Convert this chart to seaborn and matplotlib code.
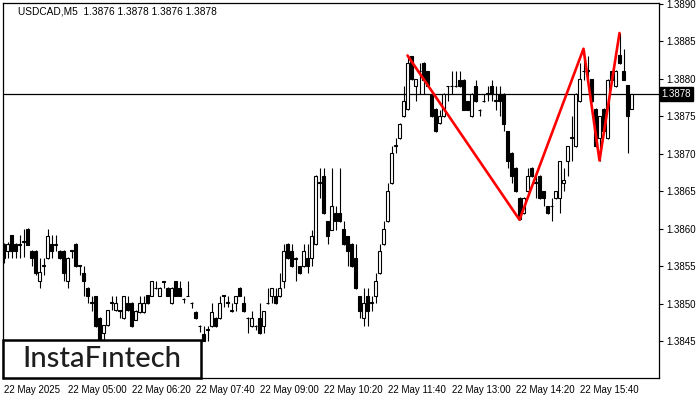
import numpy as np
import pandas as pd
import matplotlib
matplotlib.use("Agg")
import matplotlib.pyplot as plt
from matplotlib.patches import Rectangle
import seaborn as sns

symbol = "USDCAD,M5"
last_quote = "1.3876 1.3878 1.3876 1.3878"
current_price = 1.3878

# M5 candles (bar 0 = 22 May 03:40)
opens = [1.38579, 1.38570, 1.38591, 1.38580, 1.38579, 1.38583, 1.38600, 1.38571, 1.38571, 1.38530,
         1.38550, 1.38561, 1.38579, 1.38579, 1.38571, 1.38571, 1.38530, 1.38570, 1.38580, 1.38550,
         1.38541, 1.38521, 1.38501, 1.38510, 1.38481, 1.38461, 1.38471, 1.38501, 1.38491, 1.38491,
         1.38481, 1.38501, 1.38501, 1.38479, 1.38489, 1.38489, 1.38511, 1.38511, 1.38521, 1.38511,
         1.38530, 1.38521, 1.38501, 1.38530, 1.38521, 1.38507, 1.38511, 1.38501, 1.38489, 1.38470,
         1.38460, 1.38465, 1.38470, 1.38481, 1.38481, 1.38511, 1.38501, 1.38490, 1.38501, 1.38521,
         1.38501, 1.38481, 1.38470, 1.38470, 1.38481, 1.38470, 1.38501, 1.38510, 1.38510, 1.38510,
         1.38530, 1.38580, 1.38570, 1.38561, 1.38550, 1.38550, 1.38561, 1.38561, 1.38580, 1.38661,
         1.38670, 1.38610, 1.38599, 1.38621, 1.38621, 1.38599, 1.38590, 1.38580, 1.38561, 1.38510,
         1.38481, 1.38510, 1.38501, 1.38510, 1.38541, 1.38580, 1.38610, 1.38661, 1.38711, 1.38721,
         1.38750, 1.38760, 1.38830, 1.38790, 1.38810, 1.38821, 1.38810, 1.38779, 1.38760, 1.38741,
         1.38750, 1.38790, 1.38790, 1.38790, 1.38799, 1.38799, 1.38770, 1.38750, 1.38790, 1.38759,
         1.38770, 1.38780, 1.38790, 1.38770, 1.38780, 1.38780, 1.38730, 1.38701, 1.38681, 1.38641,
         1.38621, 1.38650, 1.38681, 1.38661, 1.38670, 1.38650, 1.38630, 1.38630, 1.38641, 1.38641,
         1.38661, 1.38690, 1.38721, 1.38710, 1.38770, 1.38810, 1.38812, 1.38799, 1.38760, 1.38721,
         1.38760, 1.38721, 1.38810, 1.38790, 1.38832, 1.38810, 1.38791, 1.38760]
highs = [1.38581, 1.38583, 1.38592, 1.38581, 1.38592, 1.38600, 1.38601, 1.38572, 1.38572, 1.38561,
         1.38561, 1.38600, 1.38592, 1.38592, 1.38572, 1.38572, 1.38562, 1.38572, 1.38581, 1.38551,
         1.38550, 1.38522, 1.38510, 1.38511, 1.38482, 1.38471, 1.38492, 1.38510, 1.38510, 1.38492,
         1.38511, 1.38510, 1.38502, 1.38491, 1.38511, 1.38511, 1.38512, 1.38531, 1.38530, 1.38522,
         1.38531, 1.38522, 1.38522, 1.38531, 1.38530, 1.38508, 1.38530, 1.38502, 1.38490, 1.38471,
         1.38470, 1.38470, 1.38501, 1.38482, 1.38511, 1.38512, 1.38511, 1.38501, 1.38511, 1.38522,
         1.38510, 1.38482, 1.38490, 1.38471, 1.38501, 1.38490, 1.38521, 1.38521, 1.38521, 1.38541,
         1.38580, 1.38581, 1.38580, 1.38562, 1.38551, 1.38580, 1.38580, 1.38599, 1.38671, 1.38681,
         1.38681, 1.38611, 1.38681, 1.38630, 1.38681, 1.38610, 1.38591, 1.38581, 1.38580, 1.38511,
         1.38521, 1.38521, 1.38510, 1.38541, 1.38580, 1.38610, 1.38661, 1.38710, 1.38721, 1.38741,
         1.38790, 1.38831, 1.38831, 1.38800, 1.38821, 1.38822, 1.38811, 1.38780, 1.38761, 1.38759,
         1.38781, 1.38791, 1.38810, 1.38810, 1.38810, 1.38800, 1.38771, 1.38781, 1.38799, 1.38760,
         1.38780, 1.38790, 1.38799, 1.38790, 1.38790, 1.38781, 1.38731, 1.38702, 1.38682, 1.38642,
         1.38642, 1.38681, 1.38682, 1.38670, 1.38671, 1.38651, 1.38631, 1.38641, 1.38651, 1.38691,
         1.38681, 1.38711, 1.38750, 1.38781, 1.38821, 1.38839, 1.38830, 1.38800, 1.38761, 1.38751,
         1.38761, 1.38800, 1.38811, 1.38812, 1.38861, 1.38840, 1.38792, 1.38780]
lows = [1.38555, 1.38561, 1.38561, 1.38561, 1.38561, 1.38563, 1.38578, 1.38550, 1.38539, 1.38521,
        1.38539, 1.38560, 1.38561, 1.38570, 1.38560, 1.38530, 1.38521, 1.38561, 1.38549, 1.38539,
        1.38510, 1.38501, 1.38490, 1.38469, 1.38450, 1.38452, 1.38470, 1.38491, 1.38490, 1.38481,
        1.38480, 1.38490, 1.38469, 1.38478, 1.38488, 1.38488, 1.38500, 1.38510, 1.38520, 1.38510,
        1.38521, 1.38510, 1.38500, 1.38510, 1.38510, 1.38501, 1.38510, 1.38494, 1.38480, 1.38463,
        1.38450, 1.38450, 1.38469, 1.38469, 1.38480, 1.38496, 1.38496, 1.38489, 1.38490, 1.38510,
        1.38489, 1.38461, 1.38469, 1.38465, 1.38460, 1.38461, 1.38500, 1.38501, 1.38500, 1.38509,
        1.38521, 1.38560, 1.38549, 1.38530, 1.38540, 1.38549, 1.38541, 1.38550, 1.38579, 1.38641,
        1.38620, 1.38580, 1.38598, 1.38599, 1.38609, 1.38579, 1.38550, 1.38549, 1.38520, 1.38481,
        1.38470, 1.38470, 1.38490, 1.38501, 1.38540, 1.38579, 1.38609, 1.38660, 1.38701, 1.38720,
        1.38749, 1.38759, 1.38799, 1.38770, 1.38780, 1.38780, 1.38789, 1.38749, 1.38729, 1.38740,
        1.38749, 1.38770, 1.38780, 1.38789, 1.38789, 1.38758, 1.38758, 1.38749, 1.38769, 1.38750,
        1.38769, 1.38770, 1.38770, 1.38759, 1.38750, 1.38730, 1.38681, 1.38661, 1.38649, 1.38612,
        1.38620, 1.38649, 1.38669, 1.38641, 1.38640, 1.38630, 1.38620, 1.38610, 1.38640, 1.38621,
        1.38650, 1.38670, 1.38690, 1.38709, 1.38769, 1.38799, 1.38799, 1.38769, 1.38709, 1.38691,
        1.38729, 1.38720, 1.38798, 1.38789, 1.38820, 1.38798, 1.38701, 1.38760]
closes = [1.38561, 1.38580, 1.38570, 1.38570, 1.38580, 1.38584, 1.38579, 1.38561, 1.38541, 1.38542,
          1.38551, 1.38591, 1.38570, 1.38580, 1.38561, 1.38541, 1.38561, 1.38571, 1.38550, 1.38551,
          1.38530, 1.38510, 1.38502, 1.38470, 1.38452, 1.38471, 1.38491, 1.38502, 1.38501, 1.38490,
          1.38510, 1.38491, 1.38470, 1.38490, 1.38501, 1.38501, 1.38501, 1.38530, 1.38521, 1.38521,
          1.38529, 1.38511, 1.38521, 1.38511, 1.38511, 1.38507, 1.38511, 1.38501, 1.38481, 1.38470,
          1.38450, 1.38466, 1.38489, 1.38470, 1.38501, 1.38510, 1.38502, 1.38491, 1.38510, 1.38510,
          1.38490, 1.38481, 1.38481, 1.38470, 1.38461, 1.38490, 1.38501, 1.38521, 1.38501, 1.38521,
          1.38570, 1.38561, 1.38550, 1.38560, 1.38541, 1.38570, 1.38550, 1.38590, 1.38670, 1.38662,
          1.38621, 1.38590, 1.38630, 1.38610, 1.38610, 1.38580, 1.38570, 1.38550, 1.38521, 1.38490,
          1.38501, 1.38490, 1.38502, 1.38530, 1.38570, 1.38599, 1.38650, 1.38701, 1.38712, 1.38740,
          1.38770, 1.38821, 1.38800, 1.38800, 1.38811, 1.38799, 1.38790, 1.38750, 1.38730, 1.38750,
          1.38780, 1.38790, 1.38791, 1.38790, 1.38790, 1.38759, 1.38759, 1.38780, 1.38770, 1.38759,
          1.38770, 1.38781, 1.38780, 1.38771, 1.38770, 1.38740, 1.38690, 1.38670, 1.38650, 1.38613,
          1.38641, 1.38670, 1.38670, 1.38662, 1.38641, 1.38641, 1.38621, 1.38631, 1.38650, 1.38690,
          1.38665, 1.38710, 1.38722, 1.38780, 1.38799, 1.38811, 1.38810, 1.38770, 1.38710, 1.38750,
          1.38730, 1.38799, 1.38799, 1.38810, 1.38821, 1.38799, 1.38750, 1.38780]

tick_bars = [0, 16, 32, 48, 64, 80, 96, 112, 128, 144]
tick_labels = ["22 May 2025", "22 May 05:00", "22 May 06:20", "22 May 07:40", "22 May 09:00",
               "22 May 10:20", "22 May 11:40", "22 May 13:00", "22 May 14:20", "22 May 15:40"]
price_ticks = [1.3845, 1.3850, 1.3855, 1.3860, 1.3865, 1.3870, 1.3875, 1.3880, 1.3885, 1.3890]

# pattern line drawn over the candles
pattern_bars = [101, 129, 145, 149, 154]
pattern_prices = [1.38831, 1.38612, 1.38840, 1.38691, 1.38861]

df = pd.DataFrame({"open": opens, "high": highs, "low": lows, "close": closes})
df["bar"] = np.arange(len(df))
up = df[df["close"] >= df["open"]]
down = df[df["close"] < df["open"]]

sns.set_theme(style="white")
plt.rcParams["font.family"] = ["Liberation Sans", "DejaVu Sans"]

fig = plt.figure(figsize=(7, 4), dpi=100)
ax = fig.add_axes([3 / 700, 22 / 400, 656 / 700, 375 / 400])

ax.axhline(current_price, color="black", lw=0.9, zorder=1)

ax.vlines(df["bar"], df["low"], df["high"], color="black", lw=0.8, zorder=2)
ax.bar(up["bar"], up["close"] - up["open"], bottom=up["open"], width=0.55,
       facecolor="white", edgecolor="black", linewidth=0.8, zorder=3)
ax.bar(down["bar"], down["open"] - down["close"], bottom=down["close"], width=0.55,
       facecolor="black", edgecolor="black", linewidth=0.8, zorder=3)

sns.lineplot(x=pattern_bars, y=pattern_prices, sort=False, color="#ff0000",
             linewidth=1.9, ax=ax, zorder=4)

ax.set_xlim(-0.125, 163.875)
ax.set_ylim(1.38401, 1.38901)

ax.yaxis.tick_right()
ax.set_yticks(price_ticks)
ax.set_yticklabels([f"{p:.4f}" for p in price_ticks])
ax.set_xticks(tick_bars)
ax.set_xticklabels(tick_labels, ha="left")
ax.tick_params(axis="both", direction="out", length=3, width=0.8, pad=2,
               labelsize=7, colors="black")
ax.set_xlabel("")
ax.set_ylabel("")
for s in ax.spines.values():
    s.set_color("black")
    s.set_linewidth(0.9)

ax.text(1.004, current_price, f"{current_price:.4f}", transform=ax.get_yaxis_transform(),
        va="center", ha="left", fontsize=7, color="white",
        bbox=dict(facecolor="black", edgecolor="black", boxstyle="square,pad=0.2"))

fig.text(18 / 700, 1 - 12 / 400, f"{symbol}  {last_quote}", fontsize=7.3,
         va="center", ha="left", color="black")

fig.patches.append(Rectangle((3 / 700, 22 / 400), 198 / 700, 38 / 400,
                             transform=fig.transFigure, facecolor="white",
                             edgecolor="black", linewidth=1.8, zorder=10))
fig.text(102 / 700, 1 - 359 / 400, "InstaFıntech", fontsize=21, fontweight="medium",
         family=["Lato", "DejaVu Sans"], color="#1e1e1e", ha="center", va="center", zorder=11)

fig.savefig("out.png", dpi=100)
